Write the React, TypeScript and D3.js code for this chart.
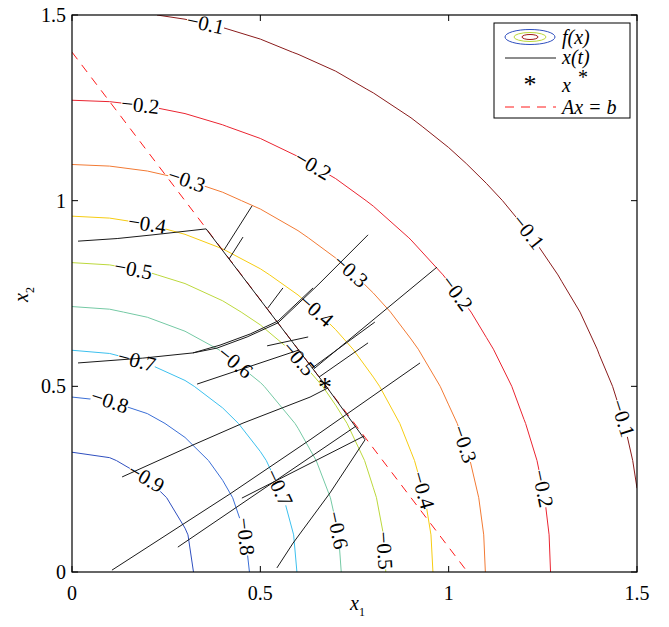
import React, { useMemo } from "react";
import * as d3 from "d3";

const W = 669;
const H = 627;
const plot = { left: 72, right: 637, top: 15, bottom: 572 };

// Contour levels of f(x) and their line colours
const levels = [-0.9, -0.8, -0.7, -0.6, -0.5, -0.4, -0.3, -0.2, -0.1];
const levelColors = [
  "#2f4fbf", "#3a6ed6", "#3cc0ee", "#74c9a4", "#bcd83c",
  "#f6cc12", "#f27a34", "#ea2430", "#8a1b1b",
];

// Sampling grid of the objective (x1, x2 in [0, 1.5], step 0.1)
const gridTicks = d3.range(0, 16).map((i) => i / 10);
const objective = (x1: number, x2: number) => -Math.exp(-(x1 * x1 + x2 * x2));

// Equality constraint A x = b
const A = [4, 3];
const b = 4.2;
const xStar: [number, number] = [0.672, 0.504];

// Contour label placements: [level, polar angle in degrees]
const labelSpots: [number, number][] = [
  [-0.1, 76.5], [-0.1, 37.1], [-0.1, 15.8],
  [-0.2, 81.8], [-0.2, 59.7], [-0.2, 36.3], [-0.2, 10.2],
  [-0.3, 73.9], [-0.3, 47.6], [-0.3, 18.3],
  [-0.4, 78.0], [-0.4, 47.4], [-0.4, 13.3],
  [-0.5, 78.7], [-0.5, 43.7], [-0.5, 4.0],
  [-0.6, 52.5], [-0.6, 9.1],
  [-0.7, 73.2], [-0.7, 22.5],
  [-0.8, 77.7], [-0.8, 11.7],
  [-0.9, 52.1],
];

// Trajectories x(t)
const trajectories: [number, number][][] = [
  [[0.016, 0.891], [0.12, 0.898], [0.215, 0.908], [0.356, 0.924], [0.672, 0.504]],
  [[0.544, 0.011], [0.587, 0.078], [0.685, 0.213], [0.778, 0.356], [0.672, 0.504]],
  [[0.478, 0.986], [0.4035, 0.867]],
  [[0.454, 0.902], [0.417, 0.843]],
  [[0.56, 0.765], [0.52, 0.711]],
  [[0.016, 0.563], [0.188, 0.576], [0.321, 0.59], [0.385, 0.603], [0.465, 0.633], [0.547, 0.671], [0.653, 0.773], [0.786, 0.908]],
  [[0.321, 0.59], [0.393, 0.611], [0.473, 0.641], [0.547, 0.676], [0.64, 0.765]],
  [[0.969, 0.821], [0.642, 0.547]],
  [[0.804, 0.673], [0.637, 0.549]],
  [[0.786, 0.617], [0.656, 0.525]],
  [[0.106, 0.005], [0.419, 0.21], [0.632, 0.356], [0.924, 0.563]],
  [[0.281, 0.067], [0.754, 0.393]],
  [[0.451, 0.199], [0.775, 0.366]],
  [[0.133, 0.256], [0.321, 0.342], [0.454, 0.401], [0.632, 0.471], [0.68, 0.496]],
  [[0.332, 0.506], [0.603, 0.598]],
  [[0.518, 0.609], [0.627, 0.633]],
];

const levelName = (v: number) => "\u2212" + Math.abs(v).toFixed(1);

export default function App() {
  const x = d3.scaleLinear().domain([0, 1.5]).range([plot.left, plot.right]);
  const y = d3.scaleLinear().domain([0, 1.5]).range([plot.bottom, plot.top]);

  // Marching squares on the coarse grid, linear interpolation on cell edges
  const contourSegs = useMemo(() => {
    const n = gridTicks.length;
    const val = (i: number, j: number) => objective(gridTicks[i], gridTicks[j]);
    return levels.map((lv) => {
      const segs: [number, number][][] = [];
      for (let i = 0; i < n - 1; i++) {
        for (let j = 0; j < n - 1; j++) {
          const corners: [number, number, number][] = [
            [gridTicks[i], gridTicks[j], val(i, j)],
            [gridTicks[i + 1], gridTicks[j], val(i + 1, j)],
            [gridTicks[i + 1], gridTicks[j + 1], val(i + 1, j + 1)],
            [gridTicks[i], gridTicks[j + 1], val(i, j + 1)],
          ];
          const pts: [number, number][] = [];
          for (let k = 0; k < 4; k++) {
            const p = corners[k];
            const q = corners[(k + 1) % 4];
            if ((p[2] - lv) * (q[2] - lv) < 0) {
              const t = (lv - p[2]) / (q[2] - p[2]);
              pts.push([p[0] + t * (q[0] - p[0]), p[1] + t * (q[1] - p[1])]);
            }
          }
          if (pts.length === 2) segs.push([pts[0], pts[1]]);
          if (pts.length === 4) {
            segs.push([pts[0], pts[1]]);
            segs.push([pts[2], pts[3]]);
          }
        }
      }
      return segs;
    });
  }, []);

  // Label anchor: the contour segment hit by the ray at the given polar angle
  const labels = labelSpots.map(([lv, deg]) => {
    const li = levels.indexOf(lv);
    const th = (deg * Math.PI) / 180;
    const dir = [Math.cos(th), Math.sin(th)];
    let best: { p: [number, number]; a: number } | null = null;
    for (const s of contourSegs[li]) {
      const [p, q] = s;
      const ex = q[0] - p[0];
      const ey = q[1] - p[1];
      const den = dir[0] * ey - dir[1] * ex;
      if (Math.abs(den) < 1e-12) continue;
      const r = (p[0] * ey - p[1] * ex) / den;
      const u = (p[0] * dir[1] - p[1] * dir[0]) / den;
      if (u >= -1e-9 && u <= 1 + 1e-9 && r > 0) {
        const px = x(r * dir[0]);
        const py = y(r * dir[1]);
        let a = (Math.atan2(y(q[1]) - y(p[1]), x(q[0]) - x(p[0])) * 180) / Math.PI;
        if (a > 90) a -= 180;
        if (a <= -90) a += 180;
        best = { p: [px, py], a };
      }
    }
    return { lv, li, pos: best ? best.p : [0, 0], angle: best ? best.a : 0 };
  });

  const lineGen = d3
    .line<[number, number]>()
    .x((d) => x(d[0]))
    .y((d) => y(d[1]));

  // Constraint line endpoints where it meets the axes
  const constraintPts: [number, number][] = [
    [0, b / A[1]],
    [b / A[0], 0],
  ];

  const xTicks = [0, 0.5, 1, 1.5];
  const yTicks = [0, 0.5, 1, 1.5];
  const tickLen = 6;
  const serif = { fontFamily: "'Liberation Serif', 'Times New Roman', Times, serif" };

  return (
    <svg width={W} height={H} style={{ display: "block", position: "absolute", left: 0, top: 0, background: "#fff" }}>
      <defs>
        <clipPath id="plotClip">
          <rect x={plot.left} y={plot.top} width={plot.right - plot.left} height={plot.bottom - plot.top} />
        </clipPath>
        <mask id="labelGaps" maskUnits="userSpaceOnUse" x={0} y={0} width={W} height={H}>
          <rect x={0} y={0} width={W} height={H} fill="#fff" />
          {labels.map((l, i) => (
            <rect
              key={i}
              x={-19}
              y={-9}
              width={38}
              height={18}
              fill="#000"
              transform={`translate(${l.pos[0]},${l.pos[1]}) rotate(${l.angle})`}
            />
          ))}
        </mask>
      </defs>

      <g clipPath="url(#plotClip)">
        <g mask="url(#labelGaps)">
          {contourSegs.map((segs, li) => (
            <path
              key={li}
              d={segs.map((s) => lineGen(s)).join("")}
              fill="none"
              stroke={levelColors[li]}
              strokeWidth={1}
            />
          ))}
        </g>
        <path d={lineGen(constraintPts) || ""} fill="none" stroke="#ff1a1a" strokeWidth={1} strokeDasharray="9,7" />
        {trajectories.map((t, i) => (
          <path key={i} d={lineGen(t) || ""} fill="none" stroke="#1a1a1a" strokeWidth={1} />
        ))}
      </g>

      {/* contour labels */}
      {labels.map((l, i) => (
        <text
          key={i}
          transform={`translate(${l.pos[0]},${l.pos[1]}) rotate(${l.angle})`}
          textAnchor="middle"
          dy="0.33em"
          style={serif}
          fontSize={21}
          fill="#000"
        >
          {levelName(l.lv)}
        </text>
      ))}

      {/* optimum */}
      <text x={x(xStar[0])} y={y(xStar[1]) + 11} textAnchor="middle" style={serif} fontSize={28} fill="#000">
        *
      </text>

      {/* axes box and inward ticks */}
      <rect
        x={plot.left}
        y={plot.top}
        width={plot.right - plot.left}
        height={plot.bottom - plot.top}
        fill="none"
        stroke="#000"
        strokeWidth={1.2}
      />
      {xTicks.map((t) => (
        <g key={"xt" + t}>
          <line x1={x(t)} x2={x(t)} y1={plot.bottom} y2={plot.bottom - tickLen} stroke="#000" />
          <line x1={x(t)} x2={x(t)} y1={plot.top} y2={plot.top + tickLen} stroke="#000" />
          <text x={x(t)} y={plot.bottom + 28} textAnchor="middle" style={serif} fontSize={20}>
            {String(t)}
          </text>
        </g>
      ))}
      {yTicks.map((t) => (
        <g key={"yt" + t}>
          <line x1={plot.left} x2={plot.left + tickLen} y1={y(t)} y2={y(t)} stroke="#000" />
          <line x1={plot.right} x2={plot.right - tickLen} y1={y(t)} y2={y(t)} stroke="#000" />
          <text x={plot.left - 6} y={y(t) + 7} textAnchor="end" style={serif} fontSize={20}>
            {String(t)}
          </text>
        </g>
      ))}

      {/* axis titles */}
      <text x={350} y={610} style={serif} fontSize={20} fontStyle="italic">
        x
        <tspan fontSize={12} fontStyle="normal" dy={6}>1</tspan>
      </text>
      <text transform="translate(28,302) rotate(-90)" style={serif} fontSize={20} fontStyle="italic">
        x
        <tspan fontSize={12} fontStyle="normal" dy={6}>2</tspan>
      </text>

      {/* legend */}
      <g>
        <rect x={494} y={23} width={136} height={95} fill="#fff" stroke="#000" strokeWidth={1} />
        <ellipse cx={530} cy={37} rx={25} ry={7.5} fill="none" stroke="#2f4fbf" />
        <ellipse cx={530} cy={37} rx={16} ry={4.5} fill="none" stroke="#bcd83c" />
        <ellipse cx={530} cy={37} rx={8} ry={2.5} fill="none" stroke="#a01818" />
        <text x={562} y={44} style={serif} fontSize={20} fontStyle="italic">f(x)</text>
        <line x1={505} x2={556} y1={58} y2={58} stroke="#1a1a1a" />
        <text x={562} y={64} style={serif} fontSize={20} fontStyle="italic">x(t)</text>
        <text x={530} y={93} textAnchor="middle" style={serif} fontSize={26}>*</text>
        <text x={562} y={92} style={serif} fontSize={20} fontStyle="italic">x</text>
        <text x={578} y={84} style={serif} fontSize={20}>*</text>
        <line x1={505} x2={556} y1={107} y2={107} stroke="#ff1a1a" strokeDasharray="9,7" />
        <text x={562} y={114} style={serif} fontSize={20} fontStyle="italic">Ax = b</text>
      </g>
    </svg>
  );
}
